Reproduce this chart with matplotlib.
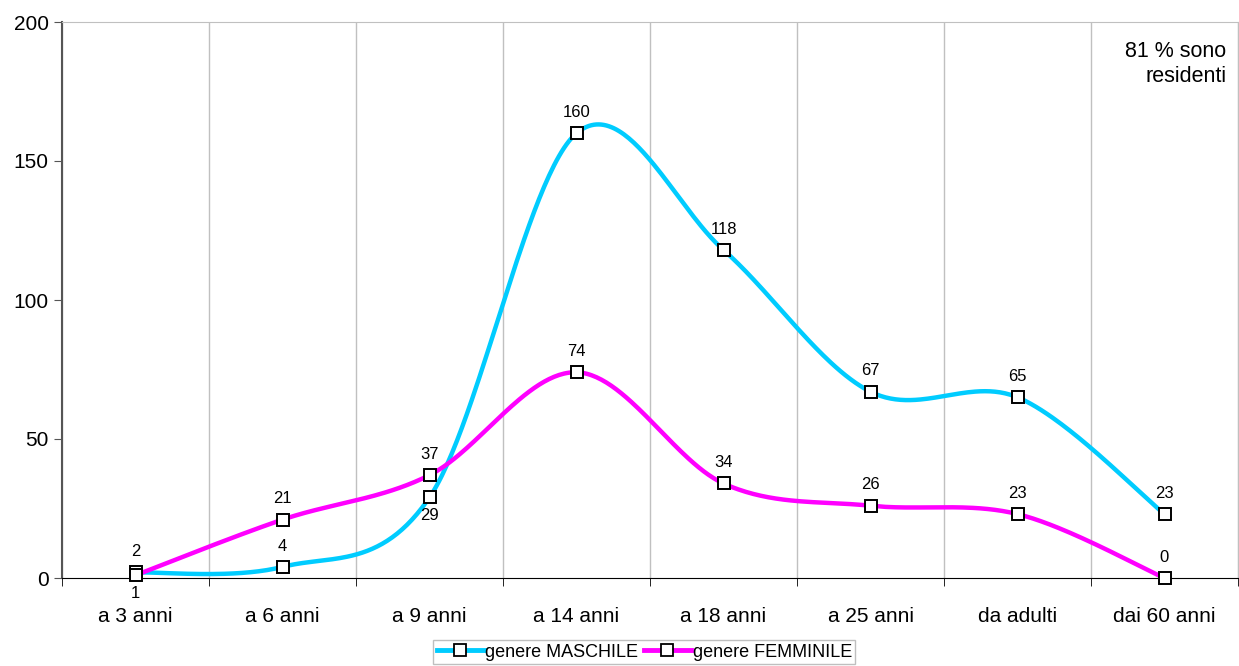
import numpy as np
import matplotlib
matplotlib.use("Agg")
import matplotlib.pyplot as plt
from matplotlib.lines import Line2D

plt.rcParams['font.family'] = ['Liberation Sans', 'DejaVu Sans']

# Data
categories = ['a 3 anni', 'a 6 anni', 'a 9 anni', 'a 14 anni',
              'a 18 anni', 'a 25 anni', 'da adulti', 'dai 60 anni']
maschile = [2, 4, 29, 160, 118, 67, 65, 23]
femminile = [1, 21, 37, 74, 34, 26, 23, 0]
# label placement: +1 above the point, -1 below
pos_maschile = [1, 1, -1, 1, 1, 1, 1, 1]
pos_femminile = [-1, 1, 1, 1, 1, 1, 1, 1]

BLUE = '#00CCFF'
MAGENTA = '#FF00FF'


# Excel-like smoothing (Catmull-Rom as cubic Bezier segments)
def smooth(xs, ys, n=60):
    p = np.column_stack([xs, ys]).astype(float)
    m = len(p)
    out = []
    for i in range(m - 1):
        p0 = p[i - 1] if i > 0 else p[i]
        p1 = p[i]
        p2 = p[i + 1]
        p3 = p[i + 2] if i + 2 < m else p[i + 1]
        c1 = p1 + (p2 - p0) / 6
        c2 = p2 - (p3 - p1) / 6
        t = np.linspace(0, 1, n)[:, None]
        seg = ((1 - t) ** 3 * p1 + 3 * (1 - t) ** 2 * t * c1
               + 3 * (1 - t) * t ** 2 * c2 + t ** 3 * p2)
        out.append(seg if i == 0 else seg[1:])
    s = np.vstack(out)
    return s[:, 0], s[:, 1]


fig = plt.figure(figsize=(12.39, 6.66), dpi=100)
ax = fig.add_axes([62 / 1239, 1 - 578 / 666, 1176 / 1239, 556 / 666])

x = np.arange(len(categories))
for vals, col, pos in [(maschile, BLUE, pos_maschile),
                       (femminile, MAGENTA, pos_femminile)]:
    sx, sy = smooth(x, vals)
    ax.plot(sx, sy, color=col, lw=3.2, solid_capstyle='round', zorder=3,
            clip_on=False)
    ax.plot(x, vals, ls='none', marker='s', ms=8.5, mfc='white', mec='black',
            mew=1.4, zorder=4, clip_on=False)
    for xi, v, p in zip(x, vals, pos):
        ax.annotate(str(v), (xi, v), xytext=(0, 15 if p > 0 else -13),
                    textcoords='offset points',
                    ha='center', va='center', fontsize=12)

ax.set_xlim(-0.5, len(categories) - 0.5)
ax.set_ylim(0, 200)
ax.set_yticks([0, 50, 100, 150, 200])
ax.set_xticks(x)
ax.set_xticklabels(categories)
ax.set_xticks(np.arange(-0.5, len(categories)), minor=True)
ax.tick_params(axis='x', which='major', length=0, labelsize=15, pad=21)
ax.tick_params(axis='x', which='minor', length=6, color='black')
ax.tick_params(axis='y', length=6, labelsize=15, color='#555555')
ax.grid(axis='x', which='minor', color='#C0C0C0', lw=1)
ax.set_axisbelow(True)

ax.spines['left'].set_color('#555555')
ax.spines['left'].set_linewidth(1.5)
ax.spines['bottom'].set_color('black')
ax.spines['top'].set_color('#C0C0C0')
ax.spines['right'].set_color('#C0C0C0')

ax.text(0.99, 0.965, '81 % sono\nresidenti', transform=ax.transAxes,
        ha='right', va='top', fontsize=15.5, linespacing=1.25)

handles = [Line2D([], [], color=BLUE, lw=3.5, marker='s', ms=8, mfc='white',
                  mec='black', mew=1.3),
           Line2D([], [], color=MAGENTA, lw=3.5, marker='s', ms=8, mfc='white',
                  mec='black', mew=1.3)]
leg = fig.legend(handles, ['genere MASCHILE', 'genere FEMMINILE'],
                 loc='center', bbox_to_anchor=(0.52, 0.021), ncol=2,
                 fontsize=13, frameon=True, fancybox=False, handlelength=2.6,
                 handletextpad=0.1, columnspacing=0.3, borderpad=0.2,
                 borderaxespad=0)
leg.get_frame().set_edgecolor('#B0B0B0')
leg.get_frame().set_linewidth(1)

fig.savefig('out.png', dpi=100)
